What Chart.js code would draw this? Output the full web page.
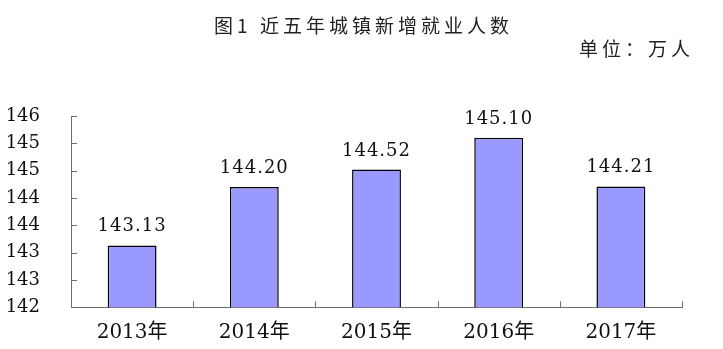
<!DOCTYPE html>
<html>
<head>
<meta charset="utf-8">
<script src="https://cdn.jsdelivr.net/npm/chart.js@4"></script>
<style>
body { margin: 0; background: #fff; }
#wrap { position: relative; width: 723px; height: 349px; }
.cap { position: absolute; font-family: "Noto Sans CJK SC"; font-size: 19px; color: #222; white-space: nowrap; }
</style>
</head>
<body>
<div id="wrap">
  <canvas id="chart" width="723" height="349"></canvas>
  <div class="cap" style="left:0;width:723px;text-align:center;top:11px;letter-spacing:4px;text-indent:4px">图1 近五年城镇新增就业人数</div>
  <div class="cap" style="right:29px;top:34px;letter-spacing:4px">单位：万人</div>
</div>
<script>
// data
const years = ['2013年', '2014年', '2015年', '2016年', '2017年'];
const jobs = [143.13, 144.20, 144.52, 145.10, 144.21];
const yMin = 142;
const yMax = 145.5;
const yStep = 0.5;

const numFont = '"DejaVu Serif", "Noto Sans CJK SC", serif';
const axisColor = '#707070';

// small tick marks drawn inside the plot, like the original
const innerTicks = {
    id: 'innerTicks',
    afterDraw(chart) {
        const ctx = chart.ctx;
        const x = chart.scales.x;
        const y = chart.scales.y;
        ctx.save();
        ctx.strokeStyle = axisColor;
        ctx.lineWidth = 1;
        ctx.beginPath();
        y.ticks.forEach((t, i) => {
            const py = Math.round(y.getPixelForTick(i)) + 0.5;
            ctx.moveTo(y.right, py);
            ctx.lineTo(y.right + 6, py);
        });
        for (let i = 0; i < years.length; i++) {
            let px;
            if (i < years.length - 1) {
                px = (x.getPixelForTick(i) + x.getPixelForTick(i + 1)) / 2;
            } else {
                px = x.right;
            }
            px = Math.round(px) + 0.5;
            ctx.moveTo(px, x.top);
            ctx.lineTo(px, x.top - 6);
        }
        ctx.stroke();
        ctx.restore();
    }
};

// value labels above each bar
const barLabels = {
    id: 'barLabels',
    afterDatasetsDraw(chart) {
        const ctx = chart.ctx;
        const meta = chart.getDatasetMeta(0);
        ctx.save();
        ctx.font = '18px ' + numFont;
        ctx.letterSpacing = '1px';
        ctx.fillStyle = '#111';
        ctx.textAlign = 'center';
        ctx.textBaseline = 'alphabetic';
        meta.data.forEach((bar, i) => {
            ctx.fillText(jobs[i].toFixed(2), bar.x, bar.y - 14);
        });
        ctx.restore();
    }
};

new Chart(document.getElementById('chart'), {
    type: 'bar',
    data: {
        labels: years,
        datasets: [{
            data: jobs,
            backgroundColor: '#9999ff',
            borderColor: '#000',
            borderWidth: 1.5,
            borderSkipped: 'bottom',
            categoryPercentage: 1,
            barPercentage: 0.4
        }]
    },
    options: {
        responsive: false,
        animation: false,
        layout: {
            padding: { left: 0, right: 41, top: 116, bottom: 2 }
        },
        plugins: {
            legend: { display: false },
            tooltip: { enabled: false }
        },
        scales: {
            y: {
                min: yMin,
                max: yMax,
                afterFit: (scale) => { scale.width = 71; },
                ticks: {
                    stepSize: yStep,
                    autoSkip: false,
                    padding: 31,
                    color: '#111',
                    font: { family: numFont, size: 18 },
                    callback: (v) => Math.round(v)
                },
                grid: { display: false, drawTicks: false },
                border: { display: true, color: axisColor, width: 1 }
            },
            x: {
                afterFit: (scale) => { scale.height = 37; },
                ticks: {
                    padding: 14,
                    color: '#111',
                    font: { family: numFont, size: 20, lineHeight: 1.2 }
                },
                grid: { display: false, drawTicks: false, offset: true },
                border: { display: true, color: axisColor, width: 1 }
            }
        }
    },
    plugins: [innerTicks, barLabels]
});
</script>
</body>
</html>
